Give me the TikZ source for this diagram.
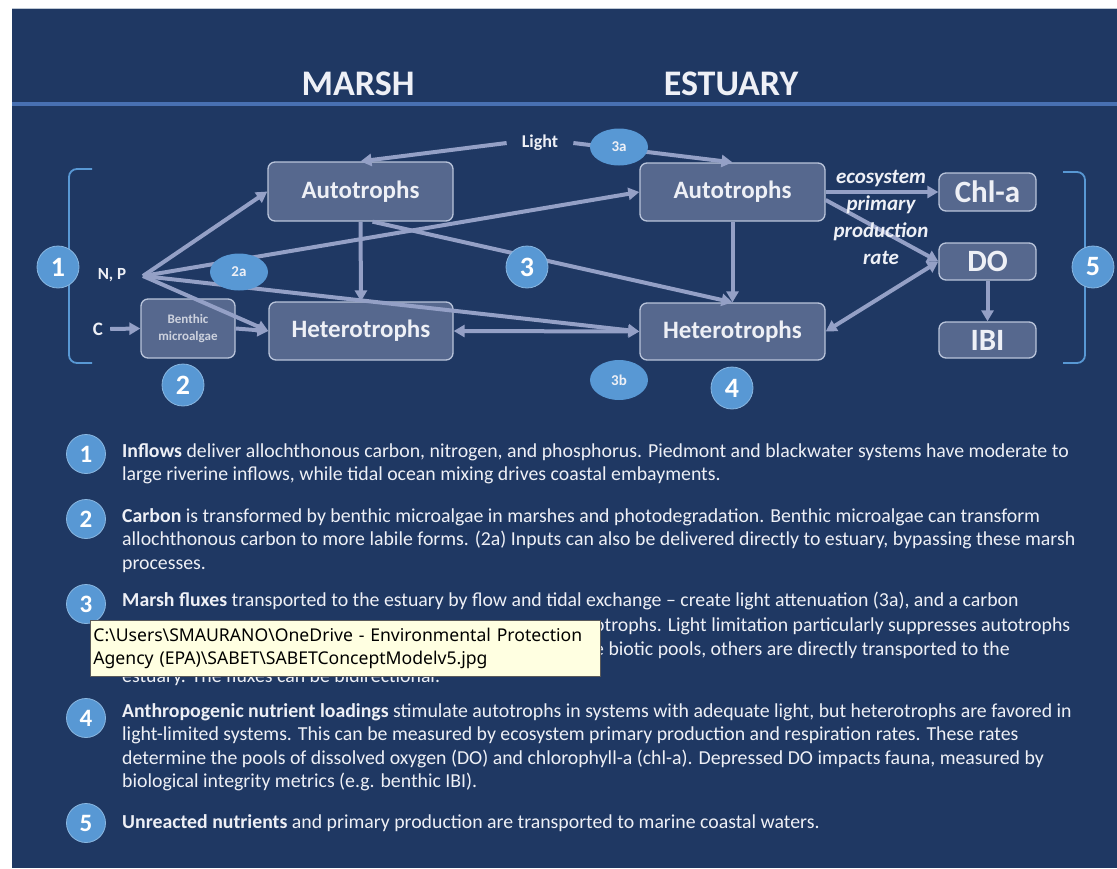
\documentclass[tikz,border=0pt]{standalone}
\usepackage{fontspec}
\setmainfont{Carlito}
\newfontfamily\tipfont{Noto Sans}
\usetikzlibrary{arrows.meta,calc,shapes.geometric}

\definecolor{paper}{RGB}{255,255,255}
\definecolor{panel}{RGB}{31,56,99}
\definecolor{paneledge}{RGB}{190,200,212}
\definecolor{rulecol}{RGB}{72,112,178}
\definecolor{boxfill}{RGB}{86,104,142}
\definecolor{boxline}{RGB}{185,196,218}
\definecolor{flowcol}{RGB}{148,160,198}
\definecolor{badgecol}{RGB}{88,152,212}
\definecolor{ink}{RGB}{238,240,246}
\definecolor{softink}{RGB}{205,210,222}
\definecolor{tipfill}{RGB}{255,255,225}
\definecolor{tipline}{RGB}{90,90,90}

\tikzset{
  pool/.style={draw=boxline, line width=1.3pt, fill=boxfill, rounded corners=7pt,
    text=ink, inner sep=0pt, font=\fontsize{25}{28}\selectfont\bfseries},
  flow/.style={draw=flowcol, line width=4pt, -{Triangle[length=11pt,width=12pt]}},
  twoway/.style={draw=flowcol, line width=4pt,
    {Triangle[length=11pt,width=12pt]}-{Triangle[length=11pt,width=12pt]}},
  badge/.style={circle, fill=badgecol, draw=badgecol!70!white, line width=0.8pt,
    minimum size=42pt, inner sep=0pt, text=white, font=\fontsize{28}{30}\selectfont\bfseries},
  smallbadge/.style={badge, minimum size=39pt, font=\fontsize{25}{27}\selectfont\bfseries},
  oval/.style={ellipse, fill=badgecol, minimum width=58pt, minimum height=37pt,
    inner sep=0pt, text=ink, font=\fontsize{15}{16}\selectfont\bfseries},
  bracket/.style={draw=badgecol, line width=1.8pt, rounded corners=8pt},
  lbl/.style={text=ink, inner sep=2pt},
  para/.style={text=ink, anchor=base west, inner sep=0pt,
    font=\fontsize{19.8}{23.5}\selectfont},
}

\begin{document}
\begin{tikzpicture}[x=1pt,y=-1pt]
\useasboundingbox (0,0) rectangle (1117,868);
\fill[paper] (0,0) rectangle (1117,868);
\fill[panel] (12,8) rectangle (1117,868);
\draw[paneledge, line width=1pt] (12,8.5) -- (1117,8.5);
\draw[rulecol, line width=3.5pt] (12,104) -- (1117,104);

% section titles
\node[lbl, font=\fontsize{36}{40}\selectfont\bfseries] (marsh) at (358,84) {MARSH};
\node[lbl, font=\fontsize{36}{40}\selectfont\bfseries] (estuary) at (731,84) {ESTUARY};

% pools
\node[pool, minimum width=185pt, minimum height=59pt] (mA) at (360.5,191.5) {Autotrophs};
\node[pool, minimum width=184pt, minimum height=58pt] (mH) at (361,331) {Heterotrophs};
\node[pool, minimum width=185pt, minimum height=58pt] (eA) at (732.5,192) {Autotrophs};
\node[pool, minimum width=185pt, minimum height=57pt] (eH) at (732.5,331.5) {Heterotrophs};
\node[pool, minimum width=97pt, minimum height=38pt, font=\fontsize{31}{33}\selectfont\bfseries] (chl) at (987.5,192) {Chl-a};
\node[pool, minimum width=97pt, minimum height=37pt, font=\fontsize{31}{33}\selectfont\bfseries] (do) at (987.5,261.5) {DO};
\node[pool, minimum width=97pt, minimum height=36pt, font=\fontsize{31}{33}\selectfont\bfseries] (ibi) at (987.5,340) {IBI};
\node[pool, minimum width=94pt, minimum height=59pt, align=center, text=softink,
  font=\fontsize{13}{17}\selectfont\bfseries] (bma) at (188,328.5) {Benthic\\microalgae};

% inputs
\node[lbl, font=\fontsize{17}{19}\selectfont\bfseries] (np) at (112,275) {N, P};
\node[lbl, font=\fontsize{19}{21}\selectfont\bfseries, inner xsep=7pt] (cin) at (98,329) {C};
\coordinate (npsrc) at (143,276);
\node[lbl, font=\fontsize{18}{20}\selectfont\bfseries, inner xsep=15pt] (light) at (540,143) {Light};

% flows
\draw[flow] (cin.east) -- (bma.west);
\draw[flow] (npsrc) -- (mA.west);
\draw[flow] (npsrc) -- (mH.west);
\draw[flow] (bma.east) -- (mH.west);
\draw[flow] (npsrc) -- (eA.west);
\draw[flow] (npsrc) -- (eH.west);
\draw[flow] (light.west) -- (mA.north);
\draw[flow] (light.east) -- (eA.north);
\draw[flow] (mA.south) -- (mH.north);
\draw[flow] ($(mA.south)+(12,0)$) -- (eH.north);
\draw[flow] (eA.south) -- (eH.north);
\draw[twoway] (mH.east) -- (eH.west);
\draw[flow] (eA.east) -- (chl.west);
\draw[flow] ($(eA.east)+(0,8)$) -- (do.west);
\draw[twoway] (eH.east) -- (do.west);
\draw[flow] (do.south) -- (ibi.north);

\node[lbl, align=center, font=\fontsize{21}{27}\selectfont\bfseries\itshape] (ppr) at (881,217)
  {ecosystem\\primary\\production\\rate};

% brackets
\draw[bracket] (92,169) -| (69,363) -- (92,363);
\draw[bracket] (1063,172) -| (1085,363) -- (1063,363);

% numbered markers
\node[badge] (b1) at (58,267) {1};
\node[badge] (b2) at (183,385) {2};
\node[badge] (b3) at (527,267) {3};
\node[badge] (b4) at (732,388) {4};
\node[badge] (b5) at (1093,267) {5};
\node[oval] (o2a) at (239,272) {2a};
\node[oval] (o3a) at (619,147) {3a};
\node[oval, minimum height=40pt] (o3b) at (619,380) {3b};

% legend
\node[smallbadge] (k1) at (86,454) {1};
\node[para] (t1a) at (122,457) {\textbf{Inflows} deliver allochthonous carbon, nitrogen, and phosphorus. Piedmont and blackwater systems have moderate to};
\node[para] (t1b) at (122,480.5) {large riverine inflows, while tidal ocean mixing drives coastal embayments.};

\node[smallbadge] (k2) at (86,519) {2};
\node[para] (t2a) at (122,522) {\textbf{Carbon} is transformed by benthic microalgae in marshes and photodegradation. Benthic microalgae can transform};
\node[para] (t2b) at (122,545.5) {allochthonous carbon to more labile forms. (2a) Inputs can also be delivered directly to estuary, bypassing these marsh};
\node[para] (t2c) at (122,569) {processes.};

\node[smallbadge] (k3) at (86,604) {3};
\node[para] (t3a) at (122,606) {\textbf{Marsh fluxes} transported to the estuary by flow and tidal exchange -- create light attenuation (3a), and a carbon};
\node[para] (t3b) at (594,631) {otrophs. Light limitation particularly suppresses autotrophs};
\node[para] (t3c) at (594,655) {e biotic pools, others are directly transported to the};
\node[para] (t3d) at (122,682) {estuary. The fluxes can be bidirectional.};

\node[smallbadge] (k4) at (86,718) {4};
\node[para] (t4a) at (122,717) {\textbf{Anthropogenic nutrient loadings} stimulate autotrophs in systems with adequate light, but heterotrophs are favored in};
\node[para] (t4b) at (122,740.5) {light-limited systems. This can be measured by ecosystem primary production and respiration rates. These rates};
\node[para] (t4c) at (122,764) {determine the pools of dissolved oxygen (DO) and chlorophyll-a (chl-a). Depressed DO impacts fauna, measured by};
\node[para] (t4d) at (122,787.5) {biological integrity metrics (e.g. benthic IBI).};

\node[smallbadge] (k5) at (86,823) {5};
\node[para] (t5) at (122,828) {\textbf{Unreacted nutrients} and primary production are transported to marine coastal waters.};

% file-path tooltip
\node[draw=tipline, line width=0.8pt, fill=tipfill, anchor=north west, text width=504pt,
  minimum height=56pt, align=left, text=black, inner xsep=3pt,
  font=\tipfont\fontsize{17.6}{23.5}\selectfont] (tip) at (90,620)
  {C:\textbackslash Users\textbackslash SMAURANO\textbackslash OneDrive - Environmental Protection\\Agency (EPA)\textbackslash SABET\textbackslash SABETConceptModelv5.jpg};
\end{tikzpicture}
\end{document}
